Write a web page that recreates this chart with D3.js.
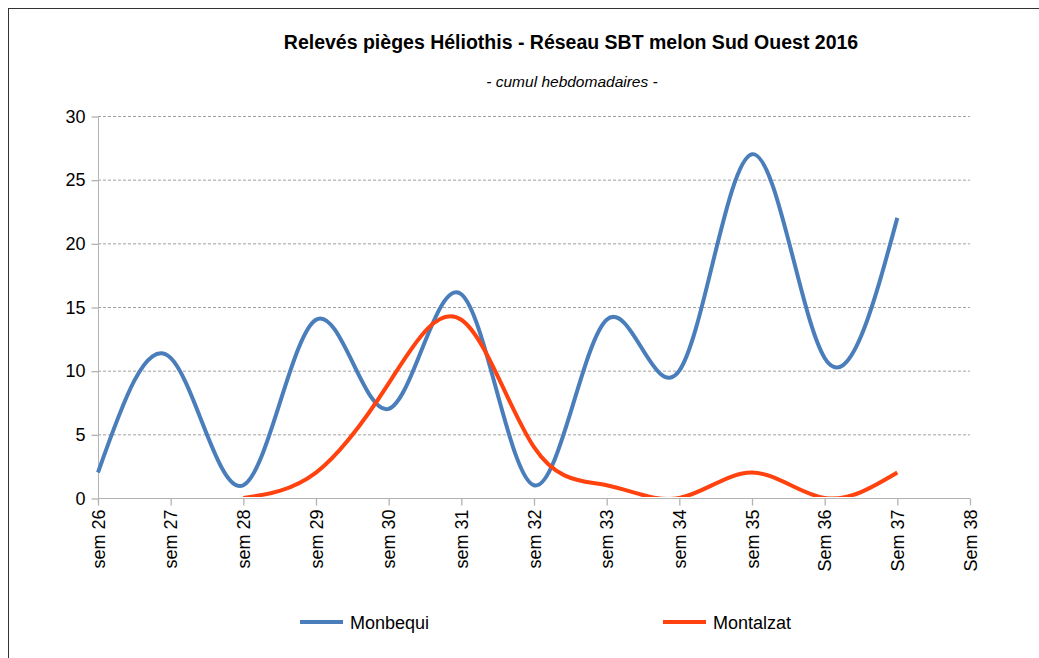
<!DOCTYPE html>
<html>
<head>
<meta charset="utf-8">
<script src="https://cdn.jsdelivr.net/npm/d3@7"></script>
<style>
  body { margin: 0; background: #fff; }
  text { font-family: "Liberation Sans", Arial, sans-serif; fill: #000; }
</style>
</head>
<body>
<script>
// Data
var weeks = ["sem 26", "sem 27", "sem 28", "sem 29", "sem 30", "sem 31", "sem 32",
             "sem 33", "sem 34", "sem 35", "Sem 36", "Sem 37", "Sem 38"];
var monbequi = [2, 11, 1, 14, 7, 16, 1, 14, 10, 27, 11, 22, null];
var montalzat = [null, null, 0, 2, 9, 14, 4, 1, 0, 2, 0, 2, null];
var yTicks = [0, 5, 10, 15, 20, 25, 30];

function init() {
    var w = 1039;
    var h = 658;
    var plotLeft = 98, plotRight = 970, plotTop = 116, plotBottom = 498;

    var series = [
        { name: "Monbequi", values: monbequi, color: "#4a7ebb" },
        { name: "Montalzat", values: montalzat, color: "#ff420e" }
    ];

    var svg = d3.select("body").append("svg")
        .attr("width", w)
        .attr("height", h);

    // outer frame of the chart
    svg.append("rect")
        .attr("x", 8.5).attr("y", 8.5)
        .attr("width", w + 20).attr("height", h + 20)
        .attr("fill", "none")
        .attr("stroke", "#333")
        .attr("stroke-width", 1);

    var x = d3.scalePoint().domain(weeks).range([plotLeft, plotRight]).padding(0);
    var y = d3.scaleLinear().domain([0, 30]).range([plotBottom, plotTop]);

    // title and subtitle
    svg.append("text")
        .attr("x", 571).attr("y", 49)
        .attr("text-anchor", "middle")
        .attr("font-size", "19.5px")
        .attr("font-weight", "bold")
        .text("Relevés pièges Héliothis - Réseau SBT melon Sud Ouest 2016");

    svg.append("text")
        .attr("x", 572).attr("y", 87)
        .attr("text-anchor", "middle")
        .attr("font-size", "15.5px")
        .attr("font-style", "italic")
        .text("- cumul hebdomadaires -");

    // horizontal dashed gridlines
    svg.append("g").selectAll("line")
        .data(yTicks.filter(function (d) { return d > 0; }))
        .enter().append("line")
        .attr("x1", plotLeft).attr("x2", plotRight)
        .attr("y1", function (d) { return y(d) + 0.5; })
        .attr("y2", function (d) { return y(d) + 0.5; })
        .attr("stroke", "#a0a0a0")
        .attr("stroke-dasharray", "3,2");

    // y axis
    var yAxis = svg.append("g")
        .attr("transform", "translate(" + (plotLeft + 0.5) + ",0.5)")
        .call(d3.axisLeft(y).tickValues(yTicks).tickSize(7).tickPadding(6));
    yAxis.selectAll("text").attr("font-size", "18px");

    // x axis
    var xAxis = svg.append("g")
        .attr("transform", "translate(0," + (plotBottom + 0.5) + ")")
        .call(d3.axisBottom(x).tickSize(7).tickPadding(4));
    xAxis.selectAll("text")
        .attr("font-size", "18px")
        .attr("transform", "rotate(-90)")
        .attr("text-anchor", "end")
        .attr("x", -11)
        .attr("y", 0)
        .attr("dy", "0.35em");

    svg.selectAll(".domain, .tick line").attr("stroke", "#b3b3b3");
    svg.selectAll(".tick line").attr("stroke-width", 1.3);
    xAxis.select(".domain").attr("d", "M" + plotLeft + ",0H" + plotRight);
    yAxis.select(".domain").attr("d", "M0," + plotTop + "V" + plotBottom);

    // clip so the spline never goes below zero
    svg.append("clipPath").attr("id", "plot")
        .append("rect")
        .attr("x", plotLeft - 5).attr("y", plotTop - 5)
        .attr("width", plotRight - plotLeft + 10)
        .attr("height", plotBottom - plotTop + 4);

    var line = d3.line()
        .defined(function (d) { return d != null; })
        .x(function (d, i) { return x(weeks[i]); })
        .y(function (d) { return y(d); })
        .curve(d3.curveNatural);

    svg.append("g").attr("clip-path", "url(#plot)")
        .selectAll("path")
        .data(series)
        .enter().append("path")
        .attr("d", function (d) { return line(d.values); })
        .attr("fill", "none")
        .attr("stroke", function (d) { return d.color; })
        .attr("stroke-width", 4)
        .attr("stroke-linejoin", "round");

    // legend
    var legend = svg.append("g").selectAll("g")
        .data(series)
        .enter().append("g")
        .attr("transform", function (d, i) { return "translate(" + (300 + i * 363) + ",622)"; });

    legend.append("line")
        .attr("x1", 0).attr("x2", 43)
        .attr("stroke", function (d) { return d.color; })
        .attr("stroke-width", 4);

    legend.append("text")
        .attr("x", 50).attr("y", 6.5)
        .attr("font-size", "18px")
        .text(function (d) { return d.name; });
}
window.onload = init;
</script>
</body>
</html>
